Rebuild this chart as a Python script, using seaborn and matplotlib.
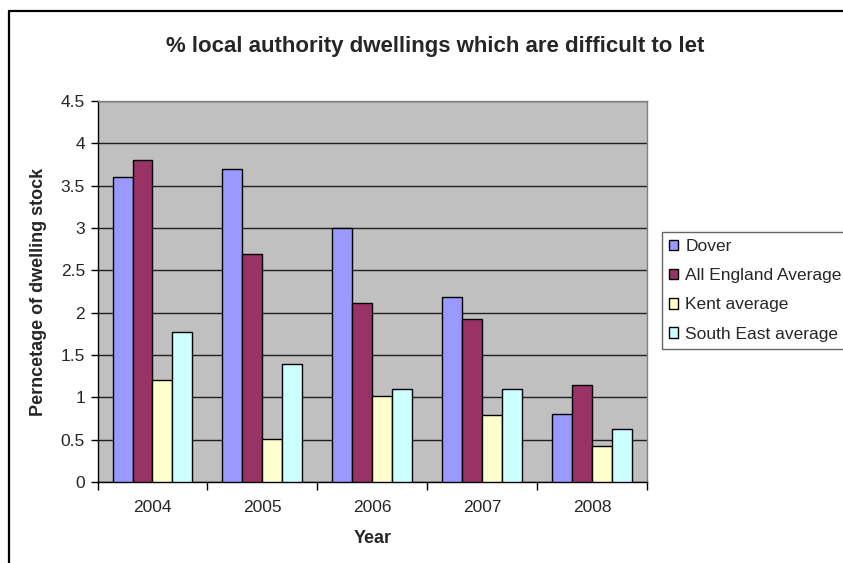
import matplotlib
matplotlib.use("Agg")
import matplotlib.pyplot as plt
from matplotlib.lines import Line2D
import seaborn as sns
import pandas as pd

years = ["2004", "2005", "2006", "2007", "2008"]
series = ["Dover", "All England Average", "Kent average", "South East average"]
dover = [3.6, 3.7, 3.0, 2.19, 0.8]
england = [3.8, 2.69, 2.11, 1.93, 1.14]
kent = [1.21, 0.51, 1.01, 0.79, 0.42]
south_east = [1.77, 1.39, 1.10, 1.10, 0.63]
colors = ["#9999FF", "#993366", "#FFFFCC", "#CCFFFF"]
y_ticks = [0, 0.5, 1, 1.5, 2, 2.5, 3, 3.5, 4, 4.5]
y_tick_labels = ["0", "0.5", "1", "1.5", "2", "2.5", "3", "3.5", "4", "4.5"]

df = pd.DataFrame({
    "Year": years * 4,
    "Series": [s for s in series for _ in years],
    "Value": dover + england + kent + south_east,
})

sns.set_theme(style="white")
plt.rcParams["font.family"] = ["Liberation Sans", "DejaVu Sans"]

fig = plt.figure(figsize=(8.43, 5.63), dpi=100)
ax = fig.add_axes([0.1157, 0.1439, 0.7675 - 0.1157, 0.8206 - 0.1439])
ax.set_facecolor("#C0C0C0")

sns.barplot(data=df, x="Year", y="Value", hue="Series", order=years,
            hue_order=series, palette=colors, width=4 / 5.5, gap=0,
            edgecolor="black", linewidth=1.0, saturation=1, ax=ax,
            legend=True, zorder=3)

ax.set_ylim(0, 4.5)
ax.set_xlim(-0.5, 4.5)
ax.set_yticks(y_ticks)
ax.set_yticklabels(y_tick_labels)
ax.yaxis.grid(True, color="#202020", linewidth=1.0, zorder=0)
ax.set_axisbelow(True)

ax.set_xticks(range(len(years)))
ax.set_xticklabels(years)
ax.set_xticks([i - 0.5 for i in range(len(years) + 1)], minor=True)
ax.tick_params(axis="x", which="major", length=0, pad=13, labelsize=12.5)
ax.tick_params(axis="x", which="minor", length=6, width=1, color="black",
               direction="out", bottom=True)
ax.tick_params(axis="y", length=5, width=1, color="black", direction="out",
               left=True, labelsize=12.5, pad=4)

for side in ["left", "bottom"]:
    ax.spines[side].set_color("black")
    ax.spines[side].set_linewidth(1.0)
for side in ["top", "right"]:
    ax.spines[side].set_color("#808080")
    ax.spines[side].set_linewidth(1.0)

ax.set_xlabel("Year", fontsize=13, fontweight="bold", labelpad=11)
ax.set_ylabel("Perncetage of dwelling stock", fontsize=13,
              fontweight="bold", labelpad=10)

fig.text(435 / 843, 0.918, "% local authority dwellings which are difficult to let",
         ha="center", va="center", fontsize=16, fontweight="bold")

leg = ax.legend(loc="upper left", bbox_to_anchor=(662 / 843, 1 - 232 / 563),
                bbox_transform=fig.transFigure, frameon=True, fancybox=False,
                edgecolor="#404040", fontsize=12.5, handlelength=0.55,
                handleheight=0.55, handletextpad=0.4, labelspacing=0.82,
                borderpad=0.4, borderaxespad=0)
leg.get_frame().set_linewidth(1.0)

# chart frame, running off the right and bottom of the canvas
fig.add_artist(Line2D([8.5 / 843, 8.5 / 843], [1 - 11 / 563, 0],
                      transform=fig.transFigure, color="black", linewidth=1.6))
fig.add_artist(Line2D([8.5 / 843, 1], [1 - 11 / 563, 1 - 11 / 563],
                      transform=fig.transFigure, color="black", linewidth=1.6))

fig.savefig("out.png", dpi=100)
